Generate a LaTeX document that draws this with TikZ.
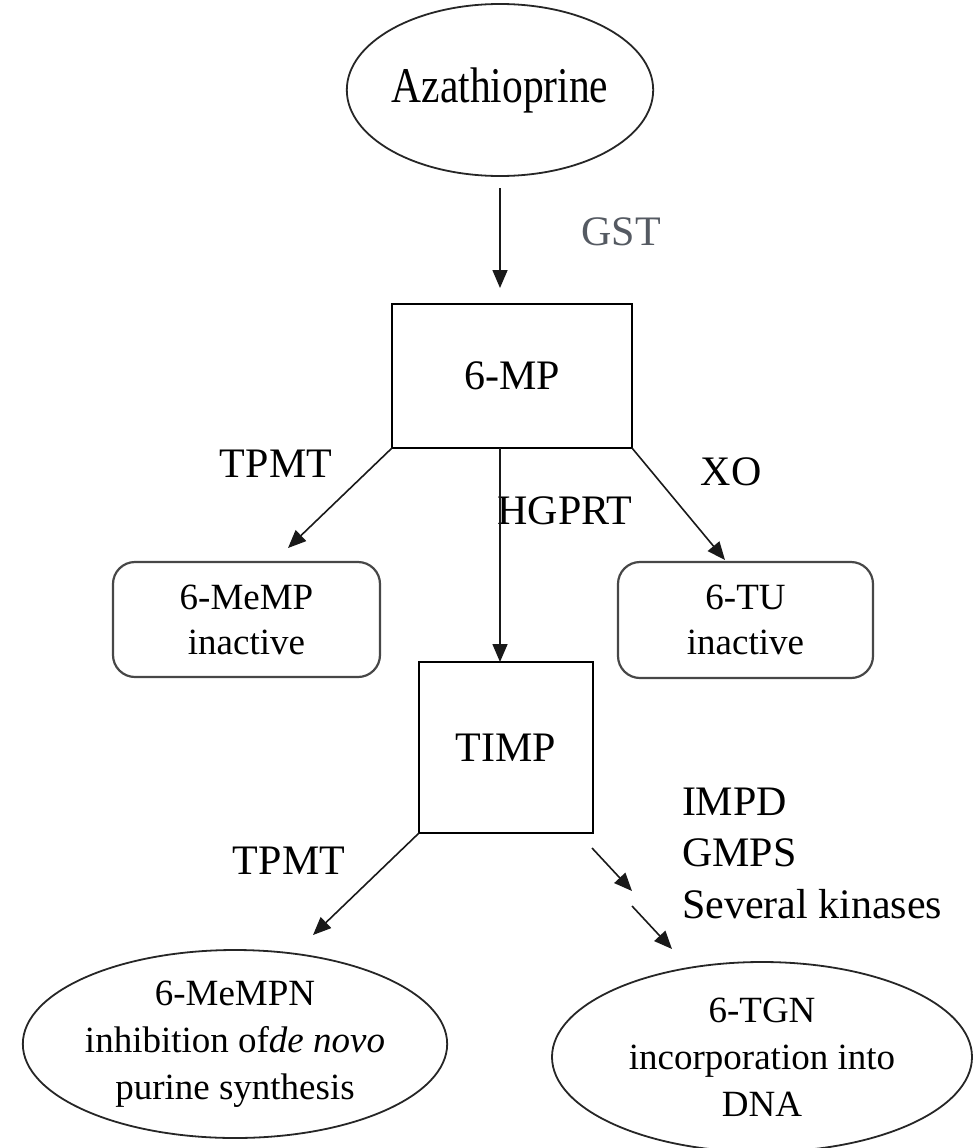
\documentclass[tikz,border=0pt]{standalone}
\usepackage{fontspec}
\usepackage{graphicx}
\setmainfont{Liberation Serif}
\usetikzlibrary{shapes.geometric,arrows.meta,calc}
\definecolor{gstgray}{RGB}{85,90,98}
\begin{document}
\begin{tikzpicture}[x=1pt,y=-1pt,
  every node/.style={inner sep=0pt, outer sep=0pt},
  ell/.style={draw=black!85, line width=1.8pt, ellipse, align=center, font=\fontsize{37}{47}\selectfont},
  sq/.style={draw=black, line width=2pt, rectangle, align=center, font=\fontsize{42}{48}\selectfont},
  rbox/.style={draw=black!72, line width=2.2pt, rounded corners=22pt, rectangle, align=center, font=\fontsize{37}{45}\selectfont},
  lbl/.style={font=\fontsize{42}{51.5}\selectfont, align=left},
  arr/.style={-{Triangle[length=18pt,width=15pt]}, line width=1.6pt, draw=black!90},
]
\useasboundingbox (0,0) rectangle (978,1148);

\node[ell, minimum width=294pt, minimum height=172pt] (az) at (500,90) {\fontsize{50}{50}\selectfont\scalebox{0.83}[1]{Azathioprine}};
\node[sq, minimum width=240pt, minimum height=144pt] (mp) at (512,376) {6-MP};
\node[sq, minimum width=174pt, minimum height=171pt] (timp) at (506,747.5) {TIMP};
\node[rbox, minimum width=267pt, minimum height=115pt] (memp) at (246.5,619.5) {6-MeMP\\inactive};
\node[rbox, minimum width=255pt, minimum height=116pt] (tu) at (745.5,620) {6-TU\\inactive};
\node[ell, minimum width=424pt, minimum height=188pt] (mempn) at (235,1044) {6-MeMPN\\inhibition of\textit{de novo}\\purine synthesis};
\node[ell, minimum width=420pt, minimum height=190pt] (tgn) at (762,1057) {6-TGN\\incorporation into\\DNA};

\node[lbl, text=gstgray] (gst) at (621,232) {GST};
\node[lbl] (tpmt1) at (276,464) {TPMT};
\node[lbl] (xo) at (731,472) {XO};
\node[lbl] (hgprt) at (565,511) {HGPRT};
\node[lbl] (tpmt2) at (289,861) {TPMT};
\node[lbl, anchor=west] (enz) at (682,853) {IMPD\\GMPS\\Several kinases};

\coordinate (k1) at (632,891);
\coordinate (k2) at (632,906);

\draw[arr] ($(az.south)+(0,12)$) -- ($(mp.north -| az.south)+(0,-16)$);
\draw[arr] (mp.south -| az.south) -- (timp.north -| az.south);
\draw[arr] (mp.south west) -- ($(memp.north)+(41.5,-14)$);
\draw[arr] (mp.south east) -- ($(tu.north)+(-20.5,-2)$);
\draw[arr] (timp.south west) -- ($(mempn.north)+(78,-15)$);
\draw[arr] ($(timp.south east)+(-1,15)$) -- (k1);
\draw[arr] (k2) -- ($(tgn.north)+(-90,-13)$);
\end{tikzpicture}
\end{document}
